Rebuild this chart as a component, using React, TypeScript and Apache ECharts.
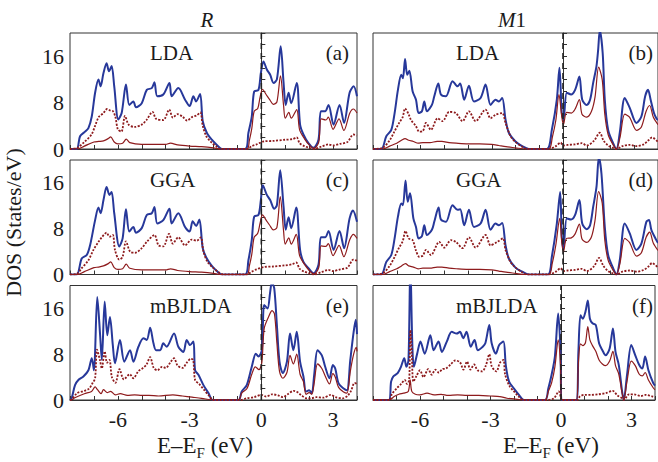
import React, { useEffect, useRef } from "react";
import * as echarts from "echarts";

// ---------- data: [E - EF (eV), DOS (States/eV)] ----------
// (a) R, LDA
const aTotal = [[-8,0],[-7.72,0],[-7.58,2.2],[-7.37,3.0],[-7.23,3.6],[-7.09,5.6],[-6.95,9.7],[-6.81,12],[-6.72,10.8],[-6.6,13.1],[-6.47,14.8],[-6.37,13.4],[-6.26,14.3],[-6.15,10.8],[-5.98,5.1],[-5.84,6.2],[-5.66,11.1],[-5.52,7.6],[-5.35,8.2],[-5.24,7.2],[-5.0,7.9],[-4.79,10.2],[-4.58,10.5],[-4.47,11.5],[-4.35,9.1],[-4.1,9.4],[-3.84,11.4],[-3.75,9.1],[-3.47,10.5],[-3.19,8.5],[-3.0,7.4],[-2.84,9.1],[-2.73,8.2],[-2.56,9.5],[-2.45,4.8],[-2.28,2.8],[-2.07,1.6],[-1.86,0.7],[-1.65,0],[-0.68,0],[-0.54,2.8],[-0.4,5.6],[-0.3,9.9],[-0.12,10.2],[-0.02,13.1],[0.09,15.1],[0.23,13.7],[0.37,12.8],[0.51,11.4],[0.65,12.0],[0.81,17.7],[0.93,11.4],[1.02,7.6],[1.14,9.7],[1.25,7.9],[1.48,11.4],[1.62,4.2],[1.76,2.5],[1.97,1.0],[2.18,0.2],[2.39,1.6],[2.49,6.5],[2.67,6.5],[2.81,7.6],[3.02,4.2],[3.27,7.6],[3.46,4.5],[3.69,9.7],[3.86,10.8],[4.0,9.1]];
const aSolid = [[-8,0],[-7.7,0],[-7.4,0.5],[-7.0,1.2],[-6.8,1.3],[-6.6,1.4],[-6.4,1.8],[-6.3,2.1],[-6.15,1.2],[-6.0,0.9],[-5.8,1.0],[-5.65,1.7],[-5.5,1.1],[-5.0,0.8],[-4.5,0.8],[-4.0,0.8],[-3.8,1.0],[-3.5,0.7],[-3.0,0.5],[-2.5,0.4],[-2.0,0.2],[-1.7,0],[-0.6,0],[-0.5,1.5],[-0.4,3.5],[-0.3,6.5],[-0.15,7],[-0.05,9.0],[0.05,10.3],[0.2,9.4],[0.35,8.5],[0.5,7.7],[0.65,8.1],[0.8,12.6],[0.93,7.5],[1.0,5.3],[1.15,6.3],[1.25,5.3],[1.48,6.8],[1.6,3.3],[1.8,1.8],[2.0,0.7],[2.2,0.1],[2.4,1.2],[2.5,5.2],[2.7,5.0],[2.8,5.5],[3.0,3.4],[3.25,5.2],[3.45,3.2],[3.7,6.2],[3.85,6.9],[4.0,6.2]];
const aDotted = [[-8,0],[-7.7,0.2],[-7.4,1.2],[-7.1,2.5],[-6.95,4],[-6.8,5.5],[-6.6,6.2],[-6.45,6.9],[-6.3,6.6],[-6.2,6.5],[-6.1,5.5],[-6.0,3.4],[-5.85,3.0],[-5.7,5.7],[-5.55,4.2],[-5.3,3.8],[-5.0,4.2],[-4.8,5.0],[-4.55,6.4],[-4.4,5.2],[-4.1,5.0],[-3.85,6.8],[-3.7,5.4],[-3.5,6.0],[-3.3,5.6],[-3.1,4.9],[-2.9,5.5],[-2.7,5.8],[-2.55,6.3],[-2.45,4.0],[-2.3,2.2],[-2.1,1.2],[-1.9,0.5],[-1.7,0],[-0.6,0],[-0.4,0.5],[-0.2,0.8],[0.1,1.3],[0.5,1.4],[1.0,1.6],[1.3,1.7],[1.48,2.0],[1.6,1.0],[1.8,0.5],[2.0,0.2],[2.2,0],[2.5,0.4],[2.8,0.8],[3.0,0.6],[3.3,0.9],[3.6,1.2],[3.85,2.5],[4.0,2.3]];

// (b) M1, LDA
const bTotal = [[-8,0],[-7.65,0],[-7.44,2.2],[-7.23,3.3],[-7.09,6.2],[-6.95,10.2],[-6.81,12.8],[-6.74,12.2],[-6.65,15.5],[-6.56,12.8],[-6.47,13.5],[-6.33,9.9],[-6.19,8.5],[-6.08,6.2],[-5.94,6.5],[-5.84,8.2],[-5.73,6.5],[-5.52,7.6],[-5.42,9.1],[-5.25,11.3],[-5.14,9.4],[-4.93,9.1],[-4.65,11.7],[-4.44,10.8],[-4.33,11.3],[-4.16,8.5],[-3.96,10.9],[-3.75,8.2],[-3.47,8.8],[-3.26,11.1],[-3.05,7.6],[-2.84,8.5],[-2.7,8.2],[-2.56,8.8],[-2.42,5.1],[-2.28,2.8],[-2.0,1.3],[-1.72,0.5],[-1.44,0],[-0.68,0],[-0.47,3.3],[-0.26,8.5],[-0.15,14.0],[-0.05,6.2],[0.02,5.1],[0.16,9.7],[0.34,9.4],[0.51,10.2],[0.69,12.5],[0.81,8.5],[1.0,7.6],[1.14,8.5],[1.27,11.4],[1.41,14.3],[1.48,17.1],[1.55,20.5],[1.67,16.6],[1.76,8.5],[1.9,3.3],[2.11,1.0],[2.25,0],[2.39,2.8],[2.6,8.8],[2.81,7.1],[3.09,4.5],[3.3,5.6],[3.46,9.1],[3.58,10.2],[3.69,8.5],[3.83,6.2],[3.93,5.3],[4.0,5.0]];
const bSolid = [[-8,0],[-7.6,0],[-7.3,0.5],[-7.0,1.0],[-6.8,1.5],[-6.65,1.8],[-6.5,1.5],[-6.3,1.3],[-6.1,1.0],[-5.9,1.1],[-5.6,1.1],[-5.3,1.3],[-5.1,1.3],[-4.8,1.1],[-4.5,1.0],[-4.0,0.9],[-3.5,0.9],[-3.0,0.8],[-2.7,0.6],[-2.4,0.4],[-2.0,0.2],[-1.6,0],[-0.6,0],[-0.45,2.0],[-0.3,5.0],[-0.17,9.4],[-0.05,5.5],[0.02,4.2],[0.15,6.3],[0.35,6.2],[0.5,6.8],[0.69,8.5],[0.8,6.0],[1.0,5.5],[1.2,6.5],[1.35,9.0],[1.5,14.1],[1.65,12.0],[1.76,6.0],[1.9,2.5],[2.1,0.8],[2.25,0],[2.4,2.0],[2.6,6.0],[2.8,5.5],[3.1,3.2],[3.3,3.8],[3.5,6.5],[3.65,7.5],[3.8,5.5],[4.0,4.2]];
const bDotted = [[-8,0],[-7.6,0.2],[-7.3,1.5],[-7.1,3.0],[-6.9,4.5],[-6.75,5.5],[-6.65,7.0],[-6.5,6.0],[-6.4,5.0],[-6.2,4.0],[-6.05,3.0],[-5.9,3.1],[-5.77,4.5],[-5.56,3.3],[-5.28,5.3],[-5.07,4.8],[-4.79,6.4],[-4.51,6.2],[-4.23,4.8],[-3.96,6.5],[-3.68,4.8],[-3.26,6.8],[-3.05,5.3],[-2.84,5.9],[-2.56,6.2],[-2.42,4.5],[-2.21,2.2],[-2.0,1.2],[-1.72,0.4],[-1.5,0],[-0.6,0],[-0.3,0.5],[-0.1,1.1],[0.0,0.6],[0.2,0.7],[0.5,0.8],[0.8,1.0],[1.0,0.6],[1.3,1.4],[1.55,2.8],[1.7,1.5],[1.9,0.6],[2.1,0.2],[2.25,0],[2.5,0.5],[2.8,0.7],[3.1,0.5],[3.4,0.8],[3.6,1.5],[3.75,2.0],[4.0,1.2]];

// (c) R, GGA
const cTotal = [[-8,0],[-7.72,0],[-7.51,2.8],[-7.3,3.4],[-7.16,5.1],[-6.95,9.5],[-6.81,11.7],[-6.72,10.7],[-6.6,13.0],[-6.47,15.3],[-6.35,13.9],[-6.26,14.4],[-6.15,10.7],[-5.94,4.9],[-5.8,6.3],[-5.66,11.4],[-5.52,7.5],[-5.35,8.3],[-5.24,7.3],[-5.0,8.1],[-4.79,10.4],[-4.58,10.7],[-4.47,11.8],[-4.35,8.9],[-4.1,9.5],[-3.84,11.5],[-3.75,8.9],[-3.47,10.7],[-3.19,8.3],[-3.0,7.5],[-2.87,9.3],[-2.73,8.5],[-2.59,9.6],[-2.45,4.6],[-2.28,2.8],[-2.07,1.5],[-1.86,0.6],[-1.65,0],[-0.68,0],[-0.54,2.5],[-0.4,6.0],[-0.3,10.1],[-0.12,10.4],[-0.02,13.0],[0.06,15.6],[0.23,13.9],[0.37,13.0],[0.54,11.5],[0.65,12.1],[0.79,18.2],[0.93,11.8],[1.02,7.8],[1.14,10.0],[1.25,8.1],[1.46,11.7],[1.62,4.3],[1.76,2.2],[1.97,1.1],[2.18,0.2],[2.39,1.7],[2.49,6.5],[2.67,6.5],[2.81,7.6],[3.02,4.3],[3.27,7.6],[3.46,4.6],[3.69,9.8],[3.83,11.2],[4.0,9.2]];
const cSolid = [[-8,0],[-7.7,0],[-7.4,0.5],[-7.0,1.2],[-6.8,1.3],[-6.6,1.5],[-6.4,1.9],[-6.3,2.2],[-6.15,1.2],[-6.0,0.9],[-5.8,1.0],[-5.65,1.8],[-5.5,1.1],[-5.0,0.8],[-4.5,0.8],[-4.0,0.8],[-3.8,1.0],[-3.5,0.7],[-3.0,0.5],[-2.5,0.4],[-2.0,0.2],[-1.7,0],[-0.6,0],[-0.5,1.5],[-0.4,3.5],[-0.3,6.5],[-0.15,7.2],[-0.05,9.0],[0.05,10.4],[0.2,9.5],[0.35,8.6],[0.5,7.8],[0.65,8.2],[0.79,13.6],[0.93,7.6],[1.0,5.3],[1.15,6.4],[1.25,5.3],[1.46,7.0],[1.6,3.3],[1.8,1.8],[2.0,0.7],[2.2,0.1],[2.4,1.2],[2.5,5.0],[2.7,4.9],[2.8,5.4],[3.0,3.3],[3.25,5.1],[3.45,3.1],[3.7,6.1],[3.85,7.0],[4.0,6.3]];
const cDotted = [[-8,0],[-7.72,0.1],[-7.51,1.1],[-7.23,2.5],[-7.02,4.3],[-6.81,5.7],[-6.67,6.5],[-6.47,7.3],[-6.35,6.6],[-6.21,6.9],[-6.12,4.3],[-5.94,2.6],[-5.8,3.1],[-5.66,5.8],[-5.49,4.0],[-5.28,3.8],[-5.0,4.6],[-4.79,5.7],[-4.47,6.9],[-4.3,5.1],[-4.1,4.9],[-3.86,7.1],[-3.7,5.4],[-3.47,6.5],[-3.19,5.1],[-2.91,6.1],[-2.7,5.9],[-2.53,6.5],[-2.42,4.0],[-2.25,2.2],[-2.0,1.1],[-1.72,0.2],[-1.6,0],[-0.6,0],[-0.4,0.5],[-0.2,0.9],[0.1,1.3],[0.5,1.4],[1.0,1.6],[1.3,1.8],[1.46,2.1],[1.6,1.0],[1.8,0.5],[2.0,0.2],[2.2,0],[2.5,0.4],[2.8,0.8],[3.0,0.6],[3.3,0.9],[3.6,1.2],[3.85,2.6],[4.0,2.4]];

// (d) M1, GGA
const dTotal = [[-8,0],[-7.65,0],[-7.44,2.2],[-7.23,3.4],[-7.09,6.3],[-6.95,10.1],[-6.81,12.4],[-6.74,12.1],[-6.63,16.4],[-6.54,12.7],[-6.44,14.2],[-6.3,9.8],[-6.19,8.3],[-6.08,6.3],[-5.94,6.7],[-5.84,8.6],[-5.73,6.9],[-5.52,7.8],[-5.42,9.2],[-5.24,11.7],[-5.14,9.6],[-4.93,9.2],[-4.65,12.1],[-4.44,11.3],[-4.33,11.4],[-4.16,8.6],[-3.96,11.3],[-3.75,8.3],[-3.47,8.9],[-3.26,11.3],[-3.05,7.8],[-2.84,8.9],[-2.7,8.6],[-2.56,9.0],[-2.42,5.1],[-2.28,2.8],[-2.0,1.2],[-1.72,0.5],[-1.44,0],[-0.64,0],[-0.47,3.1],[-0.26,8.9],[-0.12,14.4],[-0.05,6.6],[0.02,4.6],[0.16,9.8],[0.34,9.6],[0.51,10.4],[0.69,13.0],[0.81,8.9],[1.0,7.9],[1.14,8.6],[1.27,11.8],[1.41,15.3],[1.51,20.5],[1.62,17.6],[1.76,8.3],[1.9,3.4],[2.11,1.1],[2.25,0],[2.39,2.5],[2.6,8.9],[2.81,7.2],[3.09,4.3],[3.3,5.4],[3.51,9.2],[3.62,9.5],[3.72,7.8],[3.93,6.0],[4.0,5.5]];
const dSolid = [[-8,0],[-7.6,0],[-7.3,0.5],[-7.0,1.0],[-6.8,1.5],[-6.63,1.9],[-6.5,1.5],[-6.3,1.3],[-6.1,1.0],[-5.9,1.1],[-5.6,1.1],[-5.3,1.3],[-5.1,1.3],[-4.8,1.1],[-4.5,1.0],[-4.0,0.9],[-3.5,0.9],[-3.0,0.8],[-2.7,0.6],[-2.4,0.4],[-2.0,0.2],[-1.6,0],[-0.6,0],[-0.45,2.0],[-0.3,5.2],[-0.14,9.8],[-0.05,5.5],[0.02,4.0],[0.15,6.3],[0.35,6.4],[0.5,7.0],[0.69,8.8],[0.8,6.2],[1.0,5.6],[1.2,6.6],[1.35,9.5],[1.5,14.5],[1.65,12.5],[1.76,6.0],[1.9,2.5],[2.1,0.8],[2.25,0],[2.4,2.0],[2.6,6.3],[2.8,5.6],[3.1,3.2],[3.3,3.8],[3.5,6.5],[3.65,7.4],[3.8,5.5],[4.0,4.2]];
const dDotted = [[-8,0],[-7.6,0.2],[-7.3,1.5],[-7.1,3.0],[-6.9,4.7],[-6.75,5.8],[-6.63,7.6],[-6.5,6.3],[-6.33,6.0],[-6.2,4.3],[-6.05,3.1],[-5.9,3.3],[-5.77,4.3],[-5.56,3.4],[-5.21,5.7],[-5.0,4.7],[-4.72,6.0],[-4.51,5.7],[-4.23,4.6],[-3.96,6.5],[-3.68,4.7],[-3.26,6.9],[-3.05,5.1],[-2.77,5.7],[-2.53,6.3],[-2.42,4.3],[-2.21,2.2],[-2.0,1.2],[-1.72,0.4],[-1.5,0],[-0.6,0],[-0.3,0.5],[-0.1,1.1],[0.0,0.6],[0.2,0.7],[0.5,0.8],[0.8,1.0],[1.0,0.6],[1.3,1.4],[1.52,2.9],[1.7,1.5],[1.9,0.6],[2.1,0.2],[2.25,0],[2.5,0.5],[2.8,0.7],[3.1,0.5],[3.4,0.8],[3.6,1.4],[3.75,2.0],[4.0,1.2]];

// (e) R, mBJLDA
const eTotal = [[-8,0],[-7.93,0.3],[-7.79,2.6],[-7.65,3.5],[-7.44,4.1],[-7.23,5.2],[-7.09,7.3],[-7.0,5.2],[-6.86,18.0],[-6.74,11.3],[-6.67,7.0],[-6.55,17.2],[-6.44,11.3],[-6.33,14.5],[-6.21,9.6],[-6.12,6.4],[-5.91,10.5],[-5.73,6.7],[-5.49,8.7],[-5.35,6.7],[-5.14,9.3],[-4.93,10.8],[-4.79,10.5],[-4.65,12.6],[-4.51,9.9],[-4.4,8.7],[-4.23,8.7],[-4.1,9.9],[-3.96,9.3],[-3.65,11.6],[-3.47,9.3],[-3.26,8.4],[-3.12,10.5],[-2.98,9.6],[-2.84,10.2],[-2.77,5.2],[-2.63,4.4],[-2.42,2.6],[-2.21,1.2],[-2.03,0],[-0.96,0],[-0.82,1.5],[-0.61,2.6],[-0.4,5.8],[-0.23,8.1],[-0.12,7.6],[0.02,8.7],[0.12,16.6],[0.26,16.0],[0.37,18.9],[0.44,20.5],[0.54,19.5],[0.65,13.1],[0.76,6.7],[0.9,4.7],[1.07,6.7],[1.2,11.6],[1.34,8.7],[1.48,11.9],[1.62,6.7],[1.76,4.1],[1.87,1.5],[2.0,1.7],[2.11,1.2],[2.21,4.4],[2.35,8.7],[2.53,7.8],[2.67,5.8],[2.85,3.8],[2.99,6.1],[3.09,5.5],[3.23,2.9],[3.44,2.0],[3.58,1.7],[3.72,7.0],[3.86,11.9],[3.95,14.0],[4.0,11.5]];
const eSolid = [[-8,0],[-7.93,0],[-7.8,0.4],[-7.4,1.1],[-7.1,1.5],[-6.95,2.3],[-6.85,1.8],[-6.7,1.1],[-6.6,1.8],[-6.45,1.3],[-6.3,1.5],[-6.1,0.9],[-5.9,1.1],[-5.6,0.8],[-5.3,0.9],[-5.0,0.8],[-4.7,0.8],[-4.3,0.7],[-3.7,0.9],[-3.3,0.7],[-2.9,0.5],[-2.5,0.3],[-2.0,0],[-0.96,0],[-0.82,1.2],[-0.6,2.0],[-0.4,4.5],[-0.25,5.8],[-0.1,5.3],[0.02,6.5],[0.12,12.5],[0.3,14.5],[0.45,15.6],[0.55,15.0],[0.65,10.0],[0.76,5.0],[0.9,3.8],[1.07,4.8],[1.2,7.8],[1.34,6.3],[1.48,8.0],[1.62,4.5],[1.76,3.2],[1.87,1.0],[2.0,1.3],[2.11,1.0],[2.21,3.0],[2.35,6.3],[2.53,5.5],[2.67,4.2],[2.85,2.8],[2.99,4.6],[3.09,4.0],[3.23,2.2],[3.44,1.4],[3.58,1.2],[3.72,5.0],[3.86,8.0],[3.97,9.2],[4.0,8.5]];
const eDotted = [[-8,0],[-7.93,0.1],[-7.7,1.2],[-7.4,1.6],[-7.2,2.0],[-7.05,3.0],[-6.95,3.8],[-6.87,8.8],[-6.75,7.0],[-6.67,5.5],[-6.55,8.5],[-6.45,6.5],[-6.35,7.0],[-6.25,4.0],[-6.1,3.0],[-5.93,5.4],[-5.75,3.6],[-5.5,4.5],[-5.35,3.8],[-5.15,5.0],[-4.95,5.6],[-4.8,6.2],[-4.65,7.5],[-4.5,5.6],[-4.35,5.2],[-4.15,5.8],[-4.0,5.6],[-3.8,6.6],[-3.65,7.3],[-3.5,6.0],[-3.3,5.6],[-3.1,6.6],[-2.95,7.2],[-2.85,7.0],[-2.77,3.5],[-2.6,2.8],[-2.4,1.8],[-2.2,0.8],[-2.0,0],[-0.9,0],[-0.6,0.3],[-0.3,0.5],[0.0,0.9],[0.2,0.6],[0.45,1.0],[0.7,0.8],[0.9,0.5],[1.1,1.0],[1.35,1.6],[1.5,1.4],[1.65,0.9],[1.9,0.3],[2.1,0.3],[2.3,0.5],[2.6,0.4],[2.9,0.9],[3.1,0.5],[3.4,0.3],[3.6,0.7],[3.75,1.6],[3.9,3.0],[4.0,2.8]];

// (f) M1, mBJLDA
const fTotal = [[-8,0],[-7.33,0],[-7.23,3.2],[-7.14,4.1],[-6.95,4.7],[-6.81,5.8],[-6.67,7.3],[-6.58,5.8],[-6.49,7.0],[-6.41,24],[-6.33,10.2],[-6.26,5.8],[-6.12,8.1],[-5.98,10.2],[-5.8,8.1],[-5.56,11.3],[-5.42,8.7],[-5.21,10.2],[-5.07,8.4],[-4.86,10.2],[-4.65,11.9],[-4.44,11.6],[-4.3,11.9],[-4.16,10.8],[-4.02,11.9],[-3.84,9.3],[-3.68,10.5],[-3.54,8.7],[-3.33,9.3],[-3.22,9.9],[-3.05,13.1],[-2.95,9.9],[-2.77,8.1],[-2.63,9.6],[-2.45,10.2],[-2.35,6.1],[-2.21,3.2],[-2.0,2.0],[-1.79,0.9],[-1.58,0],[-0.68,0],[-0.54,2.0],[-0.4,4.4],[-0.26,7.6],[-0.12,15.1],[-0.02,8.4],[0.02,0],[0.65,0],[0.74,8.4],[0.83,14.8],[0.93,14.2],[1.04,15.4],[1.14,17.4],[1.23,14.2],[1.34,13.4],[1.48,13.1],[1.62,9.9],[1.76,8.7],[1.9,7.8],[2.07,9.0],[2.21,12.5],[2.32,8.4],[2.46,6.1],[2.6,1.5],[2.67,0],[2.81,4.4],[2.99,9.6],[3.16,7.8],[3.33,6.1],[3.46,5.5],[3.58,7.6],[3.72,5.2],[3.93,2.9],[4.0,2.5]];
const fSolid = [[-8,0],[-7.3,0],[-7.1,0.6],[-6.9,1.0],[-6.7,1.2],[-6.5,1.5],[-6.42,3.5],[-6.35,1.5],[-6.2,1.0],[-6.0,0.9],[-5.7,1.2],[-5.4,0.9],[-5.1,1.0],[-4.8,0.8],[-4.4,0.9],[-4.0,0.8],[-3.5,0.8],[-3.0,0.7],[-2.6,0.6],[-2.3,0.3],[-2.0,0.2],[-1.6,0],[-0.68,0],[-0.54,1.5],[-0.4,3.0],[-0.26,5.8],[-0.12,10.5],[-0.02,6.0],[0.02,0],[0.65,0],[0.74,6.5],[0.83,9.8],[0.93,9.5],[1.04,10.0],[1.14,12.8],[1.23,10.5],[1.34,9.5],[1.48,8.5],[1.62,7.0],[1.76,6.3],[1.9,6.0],[2.07,6.8],[2.21,8.5],[2.32,6.0],[2.46,4.5],[2.6,1.2],[2.67,0],[2.81,3.3],[2.99,6.8],[3.16,6.0],[3.33,4.5],[3.46,4.2],[3.58,4.8],[3.72,3.5],[3.93,2.1],[4.0,1.8]];
const fDotted = [[-8,0],[-7.3,0],[-7.2,1.0],[-7.0,2.0],[-6.8,2.8],[-6.65,3.5],[-6.55,2.8],[-6.46,3.5],[-6.41,12.2],[-6.35,8.0],[-6.28,3.2],[-6.15,4.2],[-6.0,5.2],[-5.85,4.0],[-5.65,5.4],[-5.5,4.4],[-5.35,5.3],[-5.2,4.8],[-5.05,5.4],[-4.9,5.5],[-4.7,6.2],[-4.5,6.9],[-4.3,6.6],[-4.15,5.3],[-4.0,6.7],[-3.85,5.3],[-3.7,6.2],[-3.55,5.2],[-3.35,5.0],[-3.2,6.0],[-3.05,8.0],[-2.95,5.9],[-2.75,5.0],[-2.6,6.5],[-2.45,7.0],[-2.38,4.5],[-2.2,2.5],[-2.0,1.5],[-1.8,0.6],[-1.6,0],[-0.6,0],[-0.3,0.3],[-0.1,1.5],[0.0,0.3],[0.02,0],[0.7,0],[0.8,0.6],[1.0,0.9],[1.3,0.9],[1.6,1.0],[1.9,1.2],[2.2,1.6],[2.4,0.8],[2.6,0.3],[2.67,0],[2.9,1.0],[3.1,1.0],[3.4,0.7],[3.6,0.9],[3.9,0.6],[4.0,0.5]];

// Fermi level marker (E = EF) spanning the DOS range
const fermiLine = [[0, 0], [0, 20]];

const methods = ["LDA", "GGA", "mBJLDA"];
const tags = ["(a)", "(b)", "(c)", "(d)", "(e)", "(f)"];
const xTickLabels = [-6, -3, 0, 3];
const yTickLabels = [0, 8, 16];

const FONT = "Liberation Serif";
const BLUE = "#27389a";
const RED = "#8e1b1d";
const INK = "#1b1b1b";

function measure(t: string, size: number) {
  const c = document.createElement("canvas").getContext("2d");
  if (!c) return t.length * size * 0.5;
  c.font = `${size}px "Liberation Serif"`;
  return c.measureText(t).width;
}

export default function App() {
  const ref = useRef<HTMLDivElement>(null);
  useEffect(() => {
    if (!ref.current) return;
    const chart = echarts.init(ref.current, undefined, { renderer: "svg" });
    const panels = [
      { tot: aTotal, sol: aSolid, dot: aDotted },
      { tot: bTotal, sol: bSolid, dot: bDotted },
      { tot: cTotal, sol: cSolid, dot: cDotted },
      { tot: dTotal, sol: dSolid, dot: dDotted },
      { tot: eTotal, sol: eSolid, dot: eDotted },
      { tot: fTotal, sol: fSolid, dot: fDotted },
    ];
    const colLeft = [70, 373];
    const rowTop = [33, 160, 285.5];
    const rowH = [116, 114.5, 114.5];
    const W = 287;

    const grid: any[] = [];
    const xAxis: any[] = [];
    const yAxis: any[] = [];
    const series: any[] = [];
    const graphic: any[] = [];

    panels.forEach((p, i) => {
      const row = Math.floor(i / 2);
      const col = i % 2;
      grid.push({
        left: colLeft[col], top: rowTop[row], width: W, height: rowH[row],
        show: true, borderColor: "#333", borderWidth: 1, backgroundColor: "transparent",
      });
      xAxis.push({
        type: "value", gridIndex: i, min: -8, max: 4, interval: 1,
        axisLine: { show: true, onZero: false, lineStyle: { color: "#333", width: 1 } },
        axisTick: { show: true, inside: true, length: 4, lineStyle: { color: "#333" } },
        axisLabel: {
          show: row === 2, margin: 8, color: INK, fontFamily: FONT, fontSize: 22,
          formatter: (v: number) => (xTickLabels.includes(v) ? String(v) : ""),
        },
        splitLine: { show: false },
      });
      yAxis.push({
        type: "value", gridIndex: i, min: 0, max: 20, interval: 2,
        axisLine: { show: true, lineStyle: { color: "#333", width: 1 } },
        axisTick: { show: true, inside: true, length: 4, lineStyle: { color: "#333" } },
        axisLabel: {
          show: col === 0, margin: 6, color: INK, fontFamily: FONT, fontSize: 22,
          formatter: (v: number) => (yTickLabels.includes(v) ? String(v) : ""),
        },
        splitLine: { show: false },
      });
      series.push({
        type: "line", xAxisIndex: i, yAxisIndex: i, data: p.tot, symbol: "none",
        smooth: 0.3, lineStyle: { color: BLUE, width: 2 }, z: 2,
      });
      series.push({
        type: "line", xAxisIndex: i, yAxisIndex: i, data: p.sol, symbol: "none",
        smooth: 0.3, lineStyle: { color: RED, width: 1.2 }, z: 3,
      });
      series.push({
        type: "line", xAxisIndex: i, yAxisIndex: i, data: p.dot, symbol: "none",
        smooth: 0.3, lineStyle: { color: RED, width: 1.8, type: [2, 1.5] }, z: 4,
      });
      series.push({
        type: "line", xAxisIndex: i, yAxisIndex: i, data: fermiLine, symbol: "none",
        lineStyle: { color: "#222", width: 1.6, type: [6, 4] }, z: 5, silent: true,
      });

      const ly = rowTop[row] + 20;
      graphic.push({
        type: "text", x: col === 0 ? 150 : 456, y: ly,
        style: { text: methods[row], fontFamily: FONT, fontSize: 21, fill: INK, align: "left", verticalAlign: "middle" },
      });
      graphic.push({
        type: "text", x: col === 0 ? 349 : 653, y: ly,
        style: { text: tags[i], fontFamily: FONT, fontSize: 21, fill: INK, align: "right", verticalAlign: "middle" },
      });
    });

    // column titles
    graphic.push({
      type: "text", x: 207, y: 20,
      style: { text: "R", fontFamily: FONT, fontSize: 21, fontStyle: "italic", fill: INK, align: "center", verticalAlign: "middle" },
    });
    graphic.push({
      type: "text", x: 512, y: 20,
      style: {
        text: "{i|M}{n|1}", fontFamily: FONT, fontSize: 21, fill: INK, align: "center", verticalAlign: "middle",
        rich: {
          i: { fontFamily: FONT, fontSize: 21, fontStyle: "italic", fill: INK },
          n: { fontFamily: FONT, fontSize: 21, fill: INK },
        },
      },
    });
    // y title
    graphic.push({
      type: "text", x: 13, y: 222.5, rotation: Math.PI / 2,
      style: { text: "DOS (States/eV)", fontFamily: FONT, fontSize: 22, fill: INK, align: "center", verticalAlign: "middle" },
    });
    // x titles
    const fsMain = 23, fsSub = 15;
    const w1 = measure("E–E", fsMain);
    const wF = measure("F", fsSub);
    [157, 503].forEach((sx) => {
      graphic.push({ type: "text", x: sx, y: 445, style: { text: "E–E", fontFamily: FONT, fontSize: fsMain, fill: INK, align: "left", verticalAlign: "middle" } });
      graphic.push({ type: "text", x: sx + w1, y: 453, style: { text: "F", fontFamily: FONT, fontSize: fsSub, fill: INK, align: "left", verticalAlign: "middle" } });
      graphic.push({ type: "text", x: sx + w1 + wF, y: 445, style: { text: " (eV)", fontFamily: FONT, fontSize: fsMain, fill: INK, align: "left", verticalAlign: "middle" } });
    });

    chart.setOption({
      animation: false,
      backgroundColor: "#ffffff",
      textStyle: { fontFamily: FONT },
      grid, xAxis, yAxis, series, graphic,
    });
    return () => chart.dispose();
  }, []);
  return (
    <div
      ref={ref}
      style={{ position: "absolute", left: 0, top: 0, width: 658, height: 462, background: "#fff" }}
    />
  );
}
